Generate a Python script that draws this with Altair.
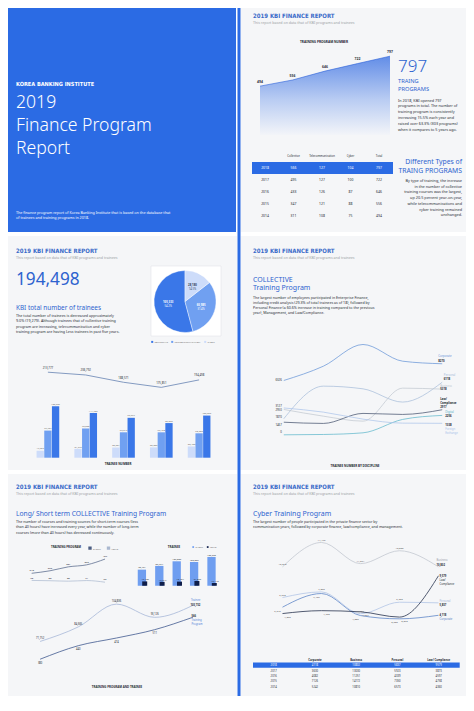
import altair as alt
import pandas as pd

# page margin is 8px; all layout numbers below are written in page pixels and shifted
OFF = 8
K = (696 - 474) / (711 - 474)   # bottom row is squeezed slightly so that it fits the page
W, H = 458, 688


def px(v):
    return v - OFF


def py(v):
    return (474 + (v - 474) * K if v > 474 else v) - OFF


def rx(a, b):
    return [px(a), px(b)]


def ry(a, b):
    return [py(a), py(b)]


FONT = "Noto Sans"
NARROW = "Liberation Sans Narrow, Arial Narrow, DejaVu Sans Condensed, Noto Sans"
BLUE = "#2b6be4"
HEAD = "#3a6bc8"
INK = "#262a33"
MUTED = "#9b9ea4"
AXC = "#8e9196"
PANEL = "#f5f6f8"
TBLUE = "#2d63cf"

years = ["2014", "2015", "2016", "2017", "2018"]

# ---- panel 2: training programmes
program_total = [494, 556, 646, 722, 797]
table_rows = ["2018", "2017", "2016", "2015", "2014"]
table_cols = ["Collective", "Telecommunication", "Cyber", "Total"]
tbl_collective = [566, 495, 433, 347, 311]
tbl_telecom = [127, 127, 126, 121, 108]
tbl_cyber = [104, 100, 87, 88, 75]
tbl_total = [797, 722, 646, 556, 494]

# ---- panel 3: trainees
trainee_total = [213777, 206792, 188571, 175851, 194498]
trainee_series = ["CYBER", "TELECOMMUNICATION", "COLLECTIVE"]
tr_cyber = [17367, 21977, 25381, 25823, 28180]
tr_telecom = [67784, 73028, 63513, 63460, 60985]
tr_collective = [128626, 111787, 99677, 86568, 105333]
pie_cats = ["COLLECTIVE", "TELECOMMUNICATION", "CYBER"]
pie_vals = [105333, 60985, 28180]

# ---- panel 4: trainees by discipline
disc_names = ["Corporate", "Personal", "Business", "Law/Compliance", "Digital", "Foreign Exchange"]
d_corporate = [6326, 7988, 10512, 8570, 8270]
d_personal = [1870, 5663, 5350, 3810, 6118]
d_business = [2950, 2170, 1590, 5430, 5318]
d_law = [1467, 1325, 2490, 2372, 2917]
d_digital = [0, 40, 232, 1790, 2256]
d_fx = [3127, 2640, 1826, 1360, 1338]
disc_colors = ["#5f8fd6", "#a3bad8", "#bfc6cf", "#3b4966", "#56b3c8", "#a8c2ea"]

# ---- panel 5: long / short term
lt_series = ["SHORT", "LONG"]
prog_short = [218, 262, 331, 366, 467]
prog_long = [93, 88, 80, 91, 62]
trn_short = [70461, 86774, 107009, 103836, 125962]
trn_long = [19106, 16917, 18104, 21066, 12110]
combo_program = [380, 440, 474, 511, 566]
combo_trainee = [71752, 84665, 104836, 93126, 103732]

# ---- panel 6: cyber
cy_names = ["Corporate", "Business", "Personal", "Law/Compliance"]
cy_corporate = [5242, 7126, 4082, 3630, 4118]
cy_business = [10810, 14172, 11251, 13030, 10802]
cy_personal = [6573, 7350, 4339, 5923, 5837]
cy_law = [4360, 4758, 4597, 3873, 9579]
cy_colors = ["#5f87c8", "#c3c8d0", "#b2c5e6", "#27324e"]


def long_df(names, arrays):
    rows = []
    for n, arr in zip(names, arrays):
        for y, v in zip(years, arr):
            rows.append({"year": y, "series": n, "v": v})
    return pd.DataFrame(rows)


L = []
dummy = pd.DataFrame({"d": [0]})


def R(x, x2, y, y2, color, stroke=None, sw=0.0):
    kw = dict(color=color)
    if stroke:
        kw.update(stroke=stroke, strokeWidth=sw)
    return alt.Chart(dummy).mark_rect(**kw).encode(
        x=alt.value(px(x)), x2=alt.value(px(x2)), y=alt.value(py(y)), y2=alt.value(py(y2)))


def T(text, x, y, size, color=INK, weight="normal", align="left", font=FONT, lh=None):
    kw = dict(text=text, fontSize=size, color=color, fontWeight=weight,
              align=align, font=font, baseline="alphabetic")
    if lh is not None:
        kw["lineHeight"] = lh
    return alt.Chart(dummy).mark_text(**kw).encode(x=alt.value(px(x)), y=alt.value(py(y)))


def ax_left(xpos, values, fs=3.0, grid=False, fmt=None):
    kw = dict(orient="left", offset=-px(xpos), values=values, grid=grid, domain=False,
              ticks=False, labelFontSize=fs, labelColor=AXC, labelFont=FONT,
              labelPadding=1.5, title=None, labelOverlap=False)
    if grid:
        kw.update(gridColor="#e1e4e8", gridWidth=0.4)
    if fmt:
        kw["format"] = fmt
    return alt.Axis(**kw)


def ax_right(xpos, values, fs=3.0, fmt=None):
    kw = dict(orient="right", offset=px(xpos) - W, values=values, grid=False, domain=False,
              ticks=False, labelFontSize=fs, labelColor=AXC, labelFont=FONT,
              labelPadding=1.5, title=None, labelOverlap=False)
    if fmt:
        kw["format"] = fmt
    return alt.Axis(**kw)


def ax_bottom(ypos, fs=3.0):
    return alt.Axis(orient="bottom", offset=py(ypos) - H, grid=False, domain=False, ticks=False,
                    labelFontSize=fs, labelColor=AXC, labelFont=FONT, labelPadding=1.2,
                    labelAngle=0, title=None, labelOverlap=False)


def lab(df, xs, ys, filt=None, text=None, field=None, fmt=None, dx=0, dy=0, size=2.8,
        color=INK, align="center", weight="normal", lh=None, band=False):
    ch = alt.Chart(df)
    if filt is not None:
        ch = ch.transform_filter(filt)
    kw = dict(fontSize=size, color=color, align=align, dx=dx, dy=dy, font=FONT,
              fontWeight=weight, baseline="alphabetic")
    if text is not None:
        kw["text"] = text
    if lh is not None:
        kw["lineHeight"] = lh
    if band:
        xe = alt.X("year:O", scale=xs, axis=None, bandPosition=0.5)
    else:
        xe = alt.X("year:O", scale=xs, axis=None)
    enc = dict(x=xe, y=alt.Y("v:Q", scale=ys, axis=None))
    if field is not None:
        enc["text"] = alt.Text(field, format=fmt) if fmt else alt.Text(field)
    return ch.mark_text(**kw).encode(**enc)


def header(x, y):
    L.append(T("2019 KBI FINANCE REPORT", x, y, 6.0, HEAD, weight="bold", font=NARROW))
    L.append(T("This report based on data that of KBI programs and trainees", x, y + 6.3, 3.6, MUTED))


# ================= backgrounds =================
L.append(R(0, 236, 0, 232, BLUE))
L.append(R(240.5, 474, 0, 232, PANEL))
L.append(R(3, 237, 236, 470, PANEL))
L.append(R(240.5, 474, 236, 470, PANEL))
L.append(R(3, 237, 474, 711, PANEL))
L.append(R(240.5, 474, 474, 711, PANEL))
L.append(R(0, 3, 232, 711, BLUE))
L.append(R(237.5, 240.5, 0, 711, BLUE))

# ================= panel 1 =================
L.append(T("KOREA BANKING INSTITUTE", 16, 85.5, 5.6, "white", weight="bold", font=NARROW))
L.append(T(["2019", "Finance Program", "Report"], 16, 108, 17.6, "white", weight=300, lh=23.2))
L.append(T(["The finance program report of Korea Banking Institute that is based on the database that",
            "of trainees and training programs in 2018."], 16, 213.5, 3.7, "white", lh=5))

# ================= panel 2 =================
header(253, 17.5)
L.append(T("TRAINING PROGRAM NUMBER", 324, 42.5, 3.2, INK, weight="bold", align="center"))
df_prog = pd.DataFrame({"year": years, "v": program_total})
xs_p = alt.Scale(type="point", domain=years, range=rx(260, 390), padding=0)
ys_p = alt.Scale(domain=[0, 900], range=ry(135, 46), nice=False)
grad = alt.Gradient(gradient="linear",
                    stops=[alt.GradientStop(color="#2360e0", offset=0),
                           alt.GradientStop(color="#9fbaf0", offset=0.55),
                           alt.GradientStop(color="#f2f4f9", offset=1)],
                    x1=0, x2=0, y1=0, y2=1)
L.append(alt.Chart(df_prog).mark_area(color=grad, line={"color": "#2a5fd8", "strokeWidth": 0.6}).encode(
    x=alt.X("year:O", scale=xs_p, axis=ax_bottom(135.5)),
    y=alt.Y("v:Q", scale=ys_p, axis=ax_left(259, list(range(0, 901, 100))))))
L.append(lab(df_prog, xs_p, ys_p, field="v:Q", dy=-3.5, size=3.4, weight="bold"))

L.append(T("797", 398, 72, 17, TBLUE, weight=300))
L.append(T(["TRAING", "PROGRAMS"], 398, 82.5, 5.7, TBLUE, lh=8.3))
L.append(T(["In 2018, KBI opened 797",
            "programs in total. The number of",
            "training program is consistently",
            "increasing 15.5% each year and",
            "raised over 63.3% (303 programs)",
            "when it compares to 5 years ago."], 398, 101.5, 3.8, INK, lh=5.9))

tbl_x = ["Year"] + table_cols
tbl_y = ["hdr"] + table_rows
xs_t2 = alt.Scale(type="point", domain=tbl_x, range=rx(265, 379), padding=0)
ys_t2 = alt.Scale(type="band", domain=tbl_y, range=ry(150, 222), paddingInner=0, paddingOuter=0)
L.append(alt.Chart(pd.DataFrame({"row": [table_rows[0]]})).mark_rect(color=BLUE).encode(
    y=alt.Y("row:N", scale=ys_t2, axis=None), x=alt.value(px(252)), x2=alt.value(px(393))))
hdr2 = pd.DataFrame({"col": table_cols, "row": ["hdr"] * 4, "txt": table_cols})
L.append(alt.Chart(hdr2).mark_text(fontSize=2.8, font=FONT, color=INK, baseline="middle").encode(
    x=alt.X("col:N", scale=xs_t2, axis=None),
    y=alt.Y("row:N", scale=ys_t2, axis=None, bandPosition=0.5), text="txt:N"))
body2 = []
for i, r in enumerate(table_rows):
    for c, v in zip(tbl_x, [r, tbl_collective[i], tbl_telecom[i], tbl_cyber[i], tbl_total[i]]):
        body2.append({"row": r, "col": c, "txt": str(v)})
body2 = pd.DataFrame(body2)
L.append(alt.Chart(body2).mark_text(fontSize=3.4, font=FONT, baseline="middle").encode(
    x=alt.X("col:N", scale=xs_t2, axis=None),
    y=alt.Y("row:N", scale=ys_t2, axis=None, bandPosition=0.5), text="txt:N",
    color=alt.condition(alt.datum.row == table_rows[0], alt.value("white"), alt.value(INK))))

L.append(T(["Different Types of", "TRAING PROGRAMS"], 462, 164, 6.8, TBLUE, align="right", lh=8.5))
L.append(T(["By type of training, the increase",
            "in the number of collective",
            "training courses was the largest,",
            "up 20.5 percent year-on-year,",
            "while telecommunications and",
            "cyber training remained",
            "unchanged."], 462, 182, 3.8, INK, align="right", lh=5.7))

# ================= panel 3 =================
header(16, 253)
L.append(T("194,498", 16, 284.5, 17.2, TBLUE))
L.append(T("KBI total number of trainees", 16, 310, 6.4, TBLUE))
L.append(T(["The total number of trainees is decreased approximately",
            "9.0% (19,279). Although trainees that of collective training",
            "program are increasing, telecommunication and cyber",
            "training program are having Less trainees in past five years."],
           16, 317, 3.7, INK, lh=5.4))

L.append(R(151, 221, 266, 336, "white", stroke="#dcdfe4", sw=0.5))
df_pie = pd.DataFrame({"cat": pie_cats, "val": pie_vals})
pie_color = alt.Color("cat:N", scale=alt.Scale(domain=pie_cats, range=["#3a77e8", "#70a0f1", "#cddcfa"]),
                      legend=alt.Legend(orient="none", legendX=px(151), legendY=py(340.5),
                                        direction="horizontal", title=None, symbolType="square",
                                        symbolSize=4, labelFontSize=2.4, labelColor="#777",
                                        columnPadding=3, symbolStrokeWidth=0, labelOffset=1,
                                        padding=0, labelFont=FONT))
pie_order = alt.Order("val:Q", sort="ascending")
cx, cy = alt.value(px(185)), alt.value(py(301.5))
L.append(alt.Chart(df_pie).mark_arc(outerRadius=31, stroke="white", strokeWidth=0.4).encode(
    theta=alt.Theta("val:Q", stack=True), color=pie_color, order=pie_order, x=cx, y=cy))
pie_lab = alt.Chart(df_pie).transform_joinaggregate(tot="sum(val)").transform_calculate(
    pct="format(datum.val / datum.tot, '.1%')", vs="format(datum.val, ',')")
pie_tc = alt.condition(alt.datum.cat == "CYBER", alt.value("#33405c"), alt.value("white"))
L.append(pie_lab.mark_text(radius=17, fontSize=2.8, fontWeight="bold", dy=-1.6, font=FONT).encode(
    theta=alt.Theta("val:Q", stack=True), order=pie_order, text="vs:N", color=pie_tc, x=cx, y=cy))
L.append(pie_lab.mark_text(radius=17, fontSize=2.6, dy=2.2, font=FONT).encode(
    theta=alt.Theta("val:Q", stack=True), order=pie_order, text="pct:N", color=pie_tc, x=cx, y=cy))

df_tr = long_df(trainee_series, [tr_cyber, tr_telecom, tr_collective])
df_tot = pd.DataFrame({"year": years, "v": trainee_total})
xs_tr = alt.Scale(type="band", domain=years, range=rx(29, 218), paddingInner=0.4, paddingOuter=0.2)
ys_tr = alt.Scale(domain=[0, 250000], range=ry(457.7, 357.7), nice=False)
tr_col = alt.Color("series:N", scale=alt.Scale(domain=trainee_series,
                                               range=["#cddcfa", "#70a0f1", "#3a77e8"]), legend=None)
tr_off = alt.XOffset("series:N", scale=alt.Scale(domain=trainee_series, paddingInner=0.05))
L.append(alt.Chart(df_tr).mark_bar().encode(
    x=alt.X("year:O", scale=xs_tr, axis=None), xOffset=tr_off,
    y=alt.Y("v:Q", scale=ys_tr, axis=ax_left(27, list(range(0, 250001, 50000)), fs=2.8, grid=True, fmt=",")),
    color=tr_col))
L.append(alt.Chart(df_tr).mark_text(fontSize=2.4, dy=-1.8, color="#666", font=FONT, baseline="alphabetic").encode(
    x=alt.X("year:O", scale=xs_tr, axis=None), xOffset=tr_off,
    y=alt.Y("v:Q", scale=ys_tr, axis=None), text=alt.Text("v:Q", format=",")))
L.append(alt.Chart(df_tot).mark_line(color="#6683b3", strokeWidth=0.8).encode(
    x=alt.X("year:O", scale=xs_tr, axis=None, bandPosition=0.5),
    y=alt.Y("v:Q", scale=ys_tr, axis=None)))
L.append(lab(df_tot, xs_tr, ys_tr, field="v:Q", fmt=",", dy=-3.5, size=2.8, band=True))
L.append(T("TRAINEE NUMBER", 118, 465, 3.0, INK, weight="bold", align="center"))

# ================= panel 4 =================
header(253, 253)
L.append(T(["COLLECTIVE", "Training Program"], 253, 281.7, 7, TBLUE, lh=8.6))
L.append(T(["The largest number of employees participated in Enterprise Finance,",
            "including credit analysis (29.3% of total trainees as of 18), followed by",
            "Personal Finance (a 60.6% increase in training compared to the previous",
            "year), Management, and Law/Compliance."], 253, 298.5, 3.6, INK, lh=5.2))
df_d = long_df(disc_names, [d_corporate, d_personal, d_business, d_law, d_digital, d_fx])
xs_d = alt.Scale(type="point", domain=years, range=rx(270, 456), padding=0.348)
ys_d = alt.Scale(domain=[-2000, 12000], range=ry(452, 331.7), nice=False, zero=False)
L.append(alt.Chart(df_d).mark_line(interpolate="monotone", strokeWidth=0.7).encode(
    x=alt.X("year:O", scale=xs_d, axis=ax_bottom(435.5)),
    y=alt.Y("v:Q", scale=ys_d, axis=ax_left(262, list(range(-2000, 12001, 2000)), grid=True, fmt="d")),
    color=alt.Color("series:N", scale=alt.Scale(domain=disc_names, range=disc_colors), legend=None)))
start_dy = {"Corporate": 1, "Personal": -0.6, "Business": 1.7, "Law/Compliance": 3.3,
            "Digital": -2, "Foreign Exchange": -1.3}
for s in disc_names:
    L.append(lab(df_d, xs_d, ys_d, filt=(alt.datum.series == s) & (alt.datum.year == "2014"),
                 field="v:Q", fmt="d", dx=-2, dy=start_dy[s], size=2.8, align="right"))
end_spec = [
    ("Corporate", ["Corporate"], -7, -2, -4),
    ("Personal", ["Personal"], -5.8, -1.8, 1.5),
    ("Business", ["Business"], -2, 1.3, -2),
    ("Law/Compliance", ["Law/", "Compliance"], -10, -2, -2),
    ("Digital", ["Digital"], -2.3, 1.7, 3),
    ("Foreign Exchange", ["Foreign", "Exchange"], 6.8, 2.8, 3),
]
for (s, nm, ndy, vdy, dx), colr in zip(end_spec, disc_colors):
    f = (alt.datum.series == s) & (alt.datum.year == "2018")
    ncol = INK if s == "Law/Compliance" else colr
    L.append(lab(df_d, xs_d, ys_d, filt=f, text=nm, dx=dx, dy=ndy, size=2.8, color=ncol,
                 align="left", lh=3.8, weight="bold" if s == "Law/Compliance" else "normal"))
    L.append(lab(df_d, xs_d, ys_d, filt=f, field="v:Q", fmt="d", dx=dx, dy=vdy, size=2.8,
                 align="left", weight="bold"))
L.append(T("TRAINEE NUMBER BY DISCIPLINE", 355, 467, 3.0, INK, weight="bold", align="center"))

# ================= panel 5 =================
header(16, 490)
L.append(T("Long/ Short term COLLECTIVE Training Program", 16, 518.5, 6.7, TBLUE))
L.append(T(["The number of courses and training sources for short-term courses (less",
            "than 40 hours) have increased every year, while the number of long-term",
            "courses (more than 40 hours) has decreased continuously."], 16, 526, 3.6, INK, lh=5.5))

lt_legend = dict(orient="none", direction="horizontal", title=None, symbolType="square",
                 symbolSize=3, labelFontSize=2.4, labelColor="#777", columnPadding=2.5,
                 labelOffset=1, padding=0, labelFont=FONT)
# A: training program
df_pa = long_df(lt_series, [prog_short, prog_long])
xs_a = alt.Scale(type="point", domain=years, range=rx(22.5, 114.2), padding=0.5)
ys_a = alt.Scale(domain=[0, 600], range=ry(593.3, 556.7), nice=False)
L.append(alt.Chart(df_pa).mark_line(interpolate="monotone", strokeWidth=0.7).encode(
    x=alt.X("year:O", scale=xs_a, axis=ax_bottom(593.8, fs=2.6)),
    y=alt.Y("v:Q", scale=ys_a, axis=ax_left(21, list(range(0, 601, 100)), fs=2.6, grid=True)),
    color=alt.Color("series:N", scale=alt.Scale(domain=lt_series, range=["#4b5d82", "#a9b7cf"]),
                    legend=alt.Legend(legendX=px(88), legendY=py(550.5), symbolStrokeWidth=1.6,
                                      **lt_legend))))
L.append(lab(df_pa, xs_a, ys_a, field="v:Q", dy=-2.2, size=2.5))
L.append(T("TRAINING PROGRAM", 66, 553, 2.9, INK, weight="bold", align="center"))

# B: trainee bars
df_tb = long_df(lt_series, [trn_short, trn_long])
xs_b = alt.Scale(type="point", domain=years, range=rx(134, 221), padding=0.5)
ys_b = alt.Scale(domain=[0, 150000], range=ry(593.3, 556.7), nice=False)
b_col = alt.Scale(domain=lt_series, range=["#6f9ef0", "#0f1e4a"])
L.append(alt.Chart(df_tb).transform_filter(alt.datum.series == "SHORT").mark_bar(size=8.3, xOffset=-0.8).encode(
    x=alt.X("year:O", scale=xs_b, axis=ax_bottom(593.8, fs=2.6)),
    y=alt.Y("v:Q", scale=ys_b, axis=ax_left(134, list(range(0, 150001, 25000)), fs=2.6, grid=True, fmt=",")),
    color=alt.Color("series:N", scale=b_col,
                    legend=alt.Legend(legendX=px(192), legendY=py(550.5), symbolStrokeWidth=0,
                                      **lt_legend))))
L.append(alt.Chart(df_tb).transform_filter(alt.datum.series == "LONG").mark_bar(size=5, xOffset=2).encode(
    x=alt.X("year:O", scale=xs_b, axis=None),
    y=alt.Y("v:Q", scale=ys_b, axis=None),
    color=alt.Color("series:N", scale=b_col, legend=None)))
L.append(lab(df_tb, xs_b, ys_b, filt=alt.datum.series == "SHORT", field="v:Q", fmt=",", dy=-1.8, dx=-0.8, size=2.4))
L.append(lab(df_tb, xs_b, ys_b, filt=alt.datum.series == "LONG", field="v:Q", fmt=",", dy=-1.8, dx=2.5, size=2.4))
L.append(T("TRAINEE", 174, 553, 2.9, INK, weight="bold", align="center"))

# C: programme vs trainee
df_cp = pd.DataFrame({"year": years, "v": combo_program})
df_ct = pd.DataFrame({"year": years, "v": combo_trainee})
xs_c = alt.Scale(type="point", domain=years, range=rx(21, 212), padding=0.5)
ys_cp = alt.Scale(domain=[300, 650], range=ry(691, 606.7), nice=False, zero=False)
ys_ct = alt.Scale(domain=[40000, 110000], range=ry(691, 606.7), nice=False, zero=False)
L.append(alt.Chart(df_ct).mark_line(interpolate="monotone", color="#a7b8d8", strokeWidth=0.8).encode(
    x=alt.X("year:O", scale=xs_c, axis=None),
    y=alt.Y("v:Q", scale=ys_ct, axis=ax_right(213, list(range(40000, 110001, 10000)), fs=2.6, fmt=","))))
L.append(alt.Chart(df_cp).mark_line(interpolate="monotone", color="#40598f", strokeWidth=0.8).encode(
    x=alt.X("year:O", scale=xs_c, axis=ax_bottom(691.5, fs=2.6)),
    y=alt.Y("v:Q", scale=ys_cp, axis=ax_left(22, list(range(300, 651, 50)), fs=2.6, grid=True))))
L.append(lab(df_ct, xs_c, ys_ct, filt=alt.datum.year != "2018", field="v:Q", fmt=",", dy=-2.5, size=2.6))
L.append(lab(df_cp, xs_c, ys_cp, filt=alt.datum.year != "2018", field="v:Q", dy=4.5, size=2.6))
L.append(lab(df_ct, xs_c, ys_ct, filt=alt.datum.year == "2018", text="Trainee", dx=-2, dy=-4.2,
             size=2.7, color="#4f7fd6", align="left"))
L.append(lab(df_ct, xs_c, ys_ct, filt=alt.datum.year == "2018", field="v:Q", fmt=",", dx=-2.5, dy=1,
             size=2.7, align="left", weight="bold"))
L.append(lab(df_cp, xs_c, ys_cp, filt=alt.datum.year == "2018", field="v:Q", dx=-1.5, dy=-0.6,
             size=2.7, align="left", weight="bold"))
L.append(lab(df_cp, xs_c, ys_cp, filt=alt.datum.year == "2018", text=["Training", "Program"], dx=-1.5,
             dy=4, size=2.7, color="#4f7fd6", align="left", lh=3.6))
L.append(T("TRAINING PROGRAM AND TRAINEE", 117, 702, 2.9, INK, weight="bold", align="center"))

# ================= panel 6 =================
header(253, 490)
L.append(T("Cyber Training Program", 253, 518.5, 7, TBLUE))
L.append(T(["The largest number of people participated in the private finance sector by",
            "communication years, followed by corporate finance, law/compliance, and management."],
           253, 526, 3.6, INK, lh=5.4))
df_cy = long_df(cy_names, [cy_corporate, cy_business, cy_personal, cy_law])
xs_y = alt.Scale(type="point", domain=years, range=rx(262, 459), padding=0.526)
ys_y = alt.Scale(domain=[0, 15000], range=ry(656.7, 540.7), nice=False)
L.append(alt.Chart(df_cy).mark_line(interpolate="monotone", strokeWidth=0.8).encode(
    x=alt.X("year:O", scale=xs_y, axis=ax_bottom(657.5, fs=2.6)),
    y=alt.Y("v:Q", scale=ys_y, axis=ax_left(262, list(range(0, 15001, 3000)), fs=2.6, grid=True, fmt="d")),
    color=alt.Color("series:N", scale=alt.Scale(domain=cy_names, range=cy_colors), legend=None)))
cy_pt = {"Business": (0, -2.3), "Personal": (0, -2.3), "Corporate": (-5, 4.3), "Law/Compliance": (5, 4.3)}
for s, (dx, dy) in cy_pt.items():
    L.append(lab(df_cy, xs_y, ys_y, filt=(alt.datum.series == s) & (alt.datum.year != "2018"),
                 field="v:Q", fmt=",", dx=dx, dy=dy, size=2.5, color="#555"))
cy_end = [
    ("Business", ["Business"], -6, -1.2, -2, "#9aa1ab"),
    ("Law/Compliance", ["Law/", "Compliance"], 5.4, 1.4, 1, INK),
    ("Personal", ["Personal"], -0.6, 3.4, 1, "#9fb3d6"),
    ("Corporate", ["Corporate"], 4.6, 0.6, 1, "#4f79c0"),
]
for s, nm, ndy, vdy, dx, colr in cy_end:
    f = (alt.datum.series == s) & (alt.datum.year == "2018")
    L.append(lab(df_cy, xs_y, ys_y, filt=f, text=nm, dx=dx, dy=ndy, size=2.7, color=colr,
                 align="left", lh=3.6))
    L.append(lab(df_cy, xs_y, ys_y, filt=f, field="v:Q", fmt=",", dx=dx, dy=vdy, size=2.7,
                 align="left", weight="bold"))

cy_cols = ["Year", "Corporate", "Business", "Personal", "Law/ Compliance"]
xs_t6 = alt.Scale(type="point", domain=cy_cols, range=rx(273.7, 438.7), padding=0)
ys_t6 = alt.Scale(type="band", domain=["hdr"] + table_rows, range=ry(669.4, 703.9),
                  paddingInner=0, paddingOuter=0)
L.append(alt.Chart(pd.DataFrame({"row": [table_rows[0]]})).mark_rect(color=BLUE).encode(
    y=alt.Y("row:N", scale=ys_t6, axis=None), x=alt.value(px(253)), x2=alt.value(px(459.7))))
hdr6 = pd.DataFrame({"col": cy_cols[1:], "row": ["hdr"] * 4, "txt": cy_cols[1:]})
L.append(alt.Chart(hdr6).mark_text(fontSize=2.7, font=FONT, color=INK, fontWeight="bold", baseline="middle").encode(
    x=alt.X("col:N", scale=xs_t6, axis=None),
    y=alt.Y("row:N", scale=ys_t6, axis=None, bandPosition=0.5), text="txt:N"))
body6 = []
for i, r in enumerate(table_rows):
    j = years.index(r)
    for c, v in zip(cy_cols, [r, cy_corporate[j], cy_business[j], cy_personal[j], cy_law[j]]):
        body6.append({"row": r, "col": c, "txt": str(v)})
body6 = pd.DataFrame(body6)
L.append(alt.Chart(body6).mark_text(fontSize=2.7, font=FONT, baseline="middle").encode(
    x=alt.X("col:N", scale=xs_t6, axis=None),
    y=alt.Y("row:N", scale=ys_t6, axis=None, bandPosition=0.5), text="txt:N",
    color=alt.condition(alt.datum.row == table_rows[0], alt.value("white"), alt.value(INK))))

chart = alt.layer(*L).resolve_scale(
    x="independent", y="independent", color="independent", theta="independent",
    xOffset="independent"
).properties(
    width=W, height=H, autosize=alt.AutoSizeParams(type="none"), padding=0, background="white"
).configure_view(stroke=None)

chart.save("out.html", embed_options={"renderer": "svg", "actions": False})
